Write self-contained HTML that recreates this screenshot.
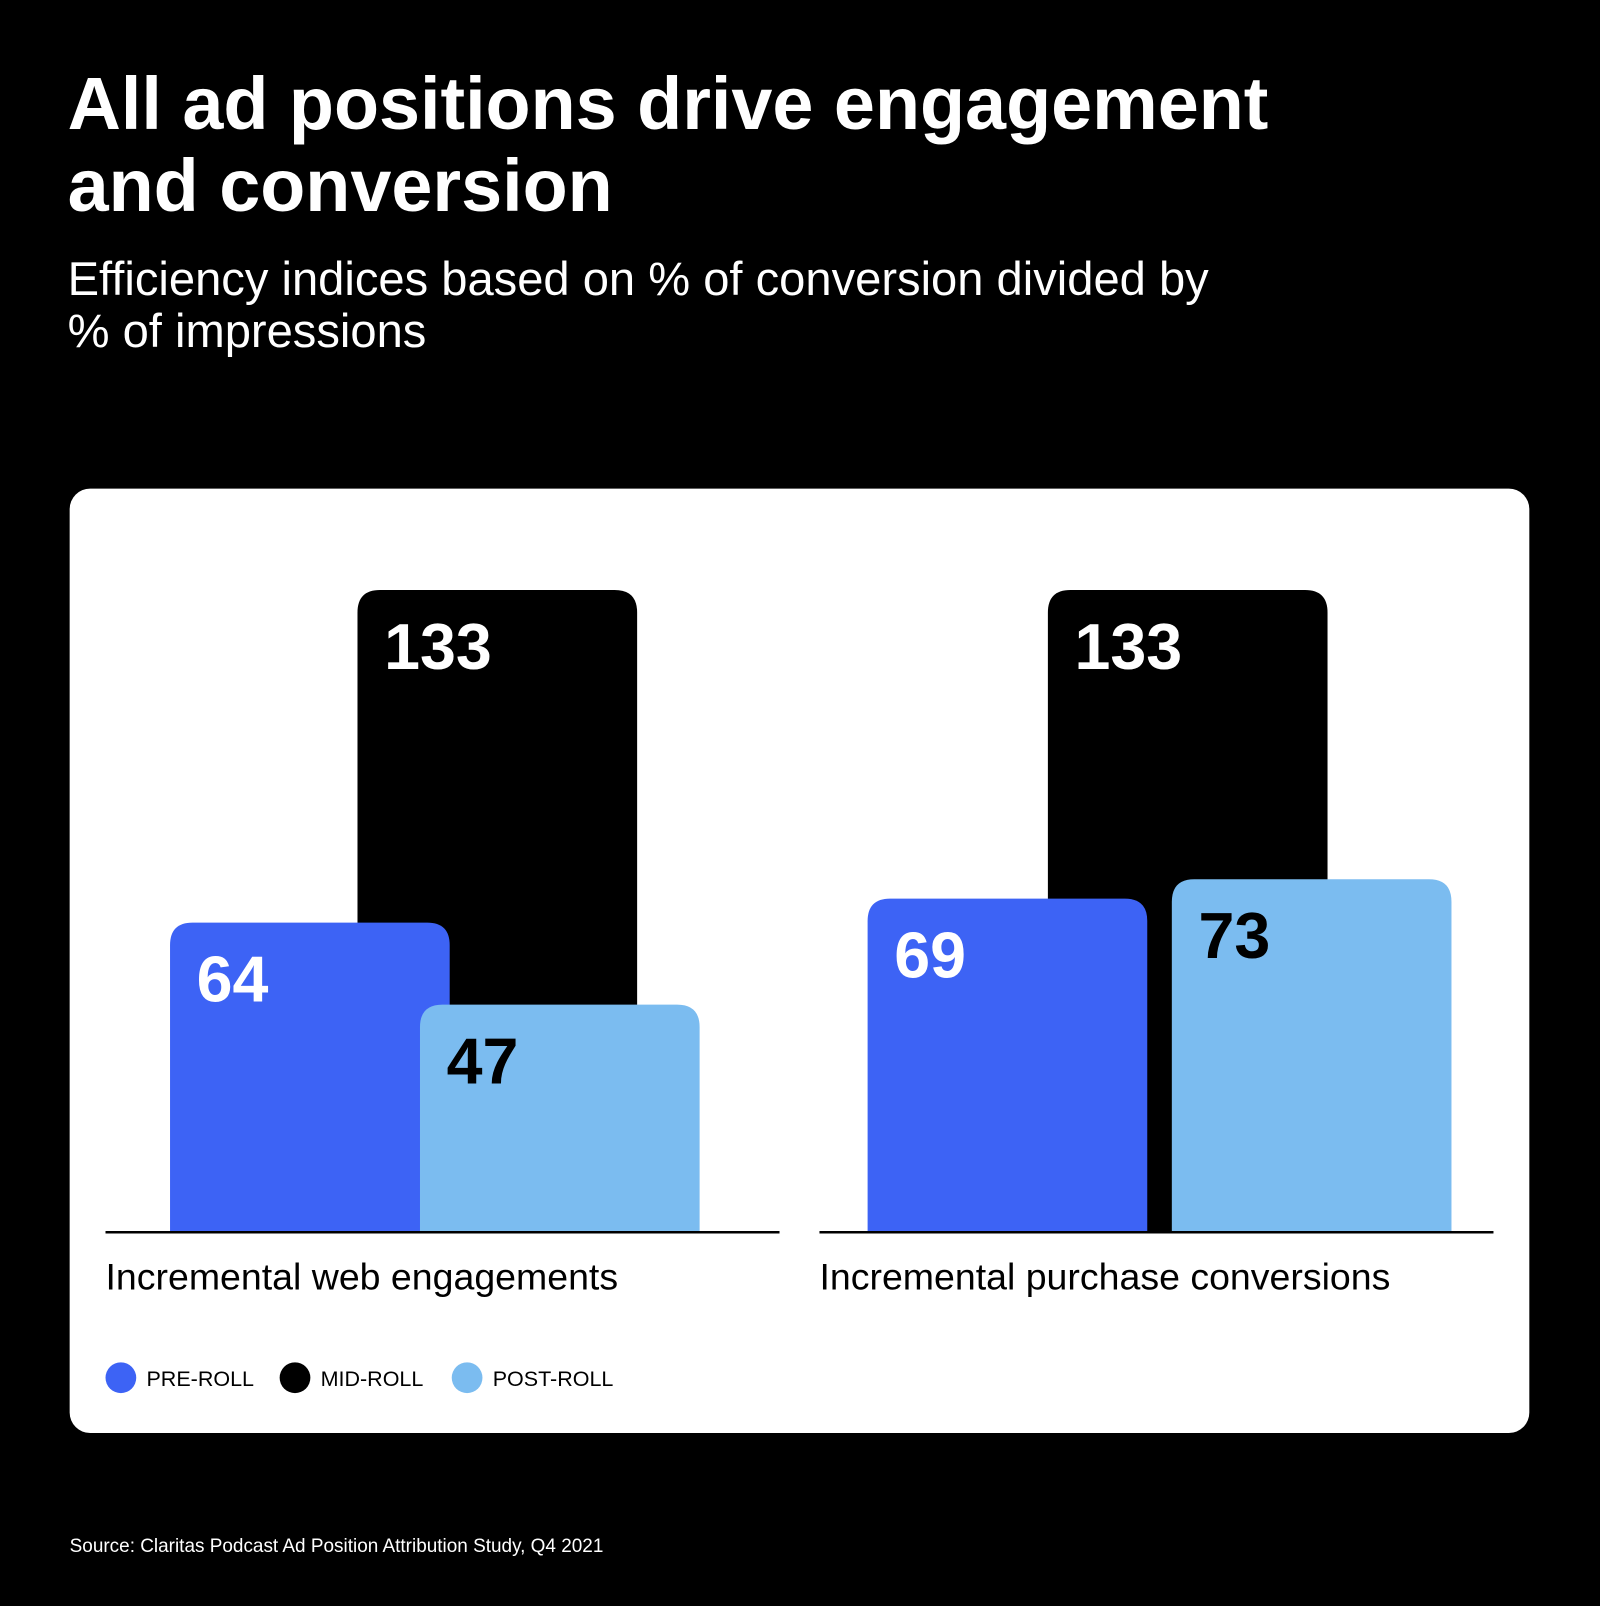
<!DOCTYPE html>
<html><head><meta charset="utf-8"><style>
html,body{margin:0;padding:0;background:#000;width:1600px;height:1606px;overflow:hidden}
#wrap{position:absolute;left:0;top:0;width:1562px;height:1568px;transform:scale(1.02433);transform-origin:0 0;font-family:"Liberation Sans",sans-serif;color:#fff}
h1{position:absolute;left:66px;top:62px;margin:0;font-size:72px;line-height:80px;font-weight:700;letter-spacing:0}
.sub{position:absolute;left:66px;top:247px;font-size:46px;line-height:51px}
.card{position:absolute;left:68px;top:477px;width:1425px;height:922px;background:#fff;border-radius:20px}
.src{position:absolute;left:68px;top:1498px;font-size:18.5px}
</style></head><body>
<div id="wrap">
<h1>All ad positions drive engagement<br>and conversion</h1>
<div class="sub">Efficiency indices based on % of conversion divided by<br>% of impressions</div>
<div class="card"></div>
<svg id="chart" width="1562" height="1568" style="position:absolute;left:0;top:0"></svg>
<div class="src">Source: Claritas Podcast Ad Position Attribution Study, Q4 2021</div>
</div>
<script>
const categories = ["Incremental web engagements","Incremental purchase conversions"];
const series = ["PRE-ROLL","MID-ROLL","POST-ROLL"];
const preRoll = [64, 69];
const midRoll = [133, 133];
const postRoll = [47, 73];

const colors = ["#3d63f5","#000000","#7bbcf0"];
const textColors = ["#fff","#fff","#000"];
const NS = "http://www.w3.org/2000/svg";
const svg = document.getElementById("chart");
const baseY = 1202, unit = 626/133;
const yScale = v => baseY - v*unit;
const groupX = [103, 800];
const barW = 273, r = 22;
function mk(tag, attrs){const e=document.createElementNS(NS,tag);for(const k in attrs)e.setAttribute(k,attrs[k]);svg.appendChild(e);return e;}
function barPath(x,y,w,h){const rr=Math.min(r,h);return `M${x},${y+h}V${y+rr}Q${x},${y} ${x+rr},${y}H${x+w-rr}Q${x+w},${y} ${x+w},${y+rr}V${y+h}Z`;}
const vals = [preRoll, midRoll, postRoll];
const order = [1,0,2];
categories.forEach((cat,gi)=>{
  const gx = groupX[gi];
  order.forEach(si=>{
    const off = gi===0 ? [63,246,307][si] : [47,223,344][si];
    const v = vals[si][gi];
    const x = gx+off, y = yScale(v), h = baseY - y;
    const p = mk("path",{d:barPath(x,y,barW,h),fill:colors[si]});
    
    
    const t = mk("text",{x:x+26,y:y+77,fill:textColors[si],"font-size":63,"font-weight":700,"font-family":"Liberation Sans, sans-serif"});
    t.textContent = v;
    
    
  });
  const ax = mk("line",{x1:gx,x2:gx+658,y1:baseY+1,y2:baseY+1,stroke:"#000","stroke-width":2.5});
  
  
  const ct = mk("text",{x:gx,y:1259,fill:"#000","font-size":36.6,"font-family":"Liberation Sans, sans-serif"});
  ct.textContent = cat;
  
  
});
const legX = [118, 288, 456];
series.forEach((s,i)=>{
  const c = mk("circle",{cx:legX[i],cy:1345,r:15,fill:colors[i]});
  
  
  const t = mk("text",{x:legX[i]+25,y:1353,fill:"#000","font-size":21,"font-family":"Liberation Sans, sans-serif"});
  t.textContent = s;
  
  
});
</script>
</body></html>
